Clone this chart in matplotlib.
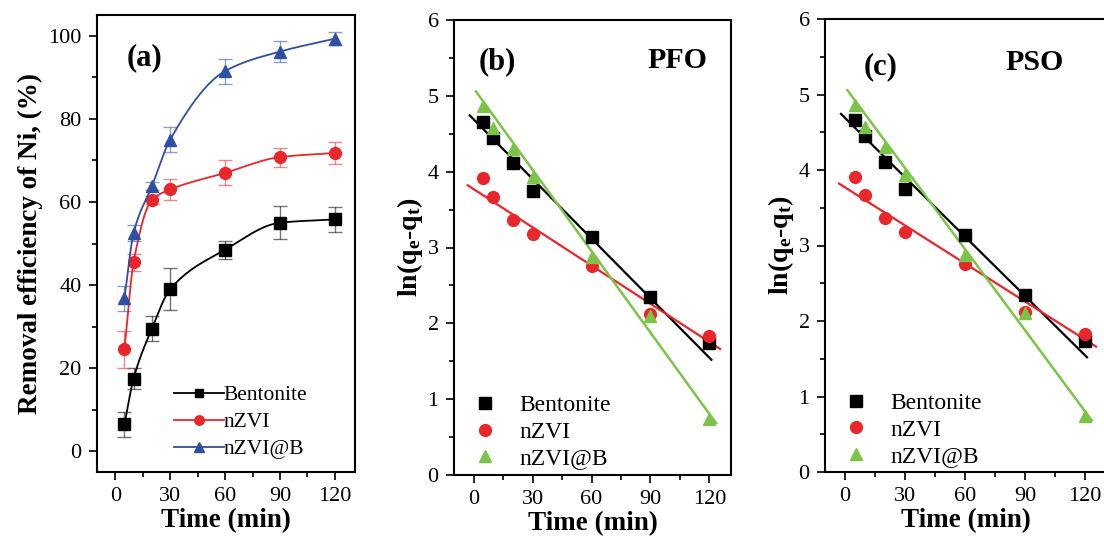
import numpy as np
import matplotlib
matplotlib.use('Agg')
import matplotlib.pyplot as plt
from matplotlib.ticker import MultipleLocator

plt.rcParams['font.family'] = ['Liberation Serif', 'DejaVu Serif']
plt.rcParams['mathtext.fontset'] = 'custom'
plt.rcParams['mathtext.rm'] = 'Liberation Serif'
plt.rcParams['mathtext.bf'] = 'Liberation Serif:bold'

# time points (min)
t = np.array([5, 10, 20, 30, 60, 90, 120])

# (a) removal efficiency (%) and error bars
rem_bent = [6.5, 17.5, 29.5, 39.0, 48.5, 55.0, 55.8]
err_bent = [3.0, 2.5, 3.0, 5.0, 2.2, 4.0, 3.0]
rem_nzvi = [24.5, 45.5, 60.5, 63.0, 67.0, 70.8, 71.8]
err_nzvi = [4.5, 2.0, 1.0, 2.5, 3.0, 2.3, 2.6]
rem_nzvib = [36.8, 52.5, 63.8, 75.0, 91.5, 96.2, 99.3]
err_nzvib = [3.0, 2.0, 1.0, 3.0, 3.0, 2.5, 1.5]

# (b)/(c) ln(qe - qt)
ln_bent = [4.66, 4.45, 4.11, 3.75, 3.14, 2.35, 1.74]
ln_nzvi = [3.91, 3.67, 3.36, 3.18, 2.75, 2.12, 1.83]
ln_nzvib = [4.86, 4.57, 4.30, 3.93, 2.87, 2.10, 0.74]

# fitted lines: (intercept, slope, t_start, t_end)
fit_bent = (4.69, -0.0262, -2, 121)
fit_nzvi = (3.77, -0.0168, -3, 125.5)
fit_nzvib = (5.10, -0.0358, 1.2, 123.4)

black = '#000000'
red = '#e8262b'
blue = '#2f4ea4'
green = '#7cc447'


def pchip(x, y, xs):
    # monotone cubic curve through the points (like Origin's spline connect)
    x = np.asarray(x, float)
    y = np.asarray(y, float)
    h = np.diff(x)
    d = np.diff(y) / h
    m = np.zeros_like(y)
    for k in range(1, len(x) - 1):
        if d[k - 1] * d[k] > 0:
            w1 = 2 * h[k] + h[k - 1]
            w2 = h[k] + 2 * h[k - 1]
            m[k] = (w1 + w2) / (w1 / d[k - 1] + w2 / d[k])
    m[0] = d[0]
    m[-1] = d[-1]
    idx = np.clip(np.searchsorted(x, xs) - 1, 0, len(x) - 2)
    s = (xs - x[idx]) / h[idx]
    h00 = 2 * s**3 - 3 * s**2 + 1
    h10 = s**3 - 2 * s**2 + s
    h01 = -2 * s**3 + 3 * s**2
    h11 = s**3 - s**2
    return h00 * y[idx] + h10 * h[idx] * m[idx] + h01 * y[idx + 1] + h11 * h[idx] * m[idx + 1]


fig = plt.figure(figsize=(11.04, 5.43), dpi=100)
ax1 = fig.add_axes([97 / 1104, 71 / 543, 258 / 1104, 457 / 543])
ax2 = fig.add_axes([454 / 1104, 68 / 543, 277 / 1104, 455 / 543])
ax3 = fig.add_axes([825 / 1104, 71 / 543, 282 / 1104, 453 / 543])


def style(ax):
    ax.set_xlim(-10, 131)
    ax.xaxis.set_major_locator(MultipleLocator(30))
    ax.xaxis.set_minor_locator(MultipleLocator(15))
    ax.tick_params(which='both', direction='out', top=False, right=False, labelsize=16, pad=5)
    ax.tick_params(which='major', length=6, width=1.2)
    ax.tick_params(which='minor', length=3.5, width=1.2)
    for sp in ax.spines.values():
        sp.set_linewidth(1.5)
    ax.set_xlabel('Time (min)', fontsize=19.5, fontweight='bold', labelpad=1)


# ---- (a) ----
xs = np.linspace(5, 120, 400)
for y, e, c, mk, ms, lab in [(rem_bent, err_bent, black, 's', 8, 'Bentonite'),
                             (rem_nzvi, err_nzvi, red, 'o', 8.5, 'nZVI'),
                             (rem_nzvib, err_nzvib, blue, '^', 9, 'nZVI@B')]:
    ax1.errorbar(t, y, yerr=e, fmt='none', ecolor=c, alpha=0.55, elinewidth=1, capsize=5, capthick=1)
    ax1.plot(xs, pchip(t, y, xs), color=c, lw=1.3)
    ax1.plot(t, y, mk, color=c, ms=ms, ls='none')
    ax1.plot([], [], marker=mk, color=c, ms=ms * 0.8, lw=1.3, label=lab)
ax1.set_ylim(-5, 105)
ax1.yaxis.set_major_locator(MultipleLocator(20))
ax1.yaxis.set_minor_locator(MultipleLocator(10))
style(ax1)
ax1.set_ylabel('Removal efficiency of Ni, (%)', fontsize=19.5, fontweight='bold', labelpad=4)
ax1.legend(loc='center left', frameon=False, fontsize=15.5, handlelength=2.32,
           handletextpad=0.0, labelspacing=0.32, bbox_to_anchor=(0.222, 0.109))
ax1.text(0.116, 0.906, '(a)', transform=ax1.transAxes, fontsize=22, fontweight='bold', va='center')

# ---- (b) and (c) ----
for ax, tag, name, pos, leg_x, leg_y in [(ax2, '(b)', 'PFO', (0.09, 0.908, 0.70, 0.912), -0.008, 0.0945),
                                         (ax3, '(c)', 'PSO', (0.136, 0.894, 0.64, 0.903), -0.008, 0.093)]:
    for (b0, b1, ta, tb), c, lw in [(fit_bent, black, 1.6), (fit_nzvi, red, 1.6), (fit_nzvib, green, 1.8)]:
        xl = np.array([ta, tb])
        ax.plot(xl, b0 + b1 * xl, color=c, lw=lw)
    ax.plot(t, ln_bent, 's', color=black, ms=8, label='Bentonite')
    ax.plot(t, ln_nzvi, 'o', color=red, ms=8.5, label='nZVI')
    ax.plot(t, ln_nzvib, '^', color=green, ms=9, label='nZVI@B')
    ax.set_ylim(0, 6)
    ax.yaxis.set_major_locator(MultipleLocator(1))
    ax.yaxis.set_minor_locator(MultipleLocator(0.5))
    style(ax)
    ax.set_ylabel(r'$\mathbf{ln(q_e\text{-}q_t)}$', fontsize=20, labelpad=2)
    ax.legend(loc='center left', frameon=False, fontsize=17, handlelength=1.0, handletextpad=0.95,
              labelspacing=0.21, bbox_to_anchor=(leg_x, leg_y))
    ax.text(pos[0], pos[1], tag, transform=ax.transAxes, fontsize=22, fontweight='bold', va='center')
    ax.text(pos[2], pos[3], name, transform=ax.transAxes, fontsize=21.5, fontweight='bold', va='center')

fig.savefig('out.png', dpi=100)
